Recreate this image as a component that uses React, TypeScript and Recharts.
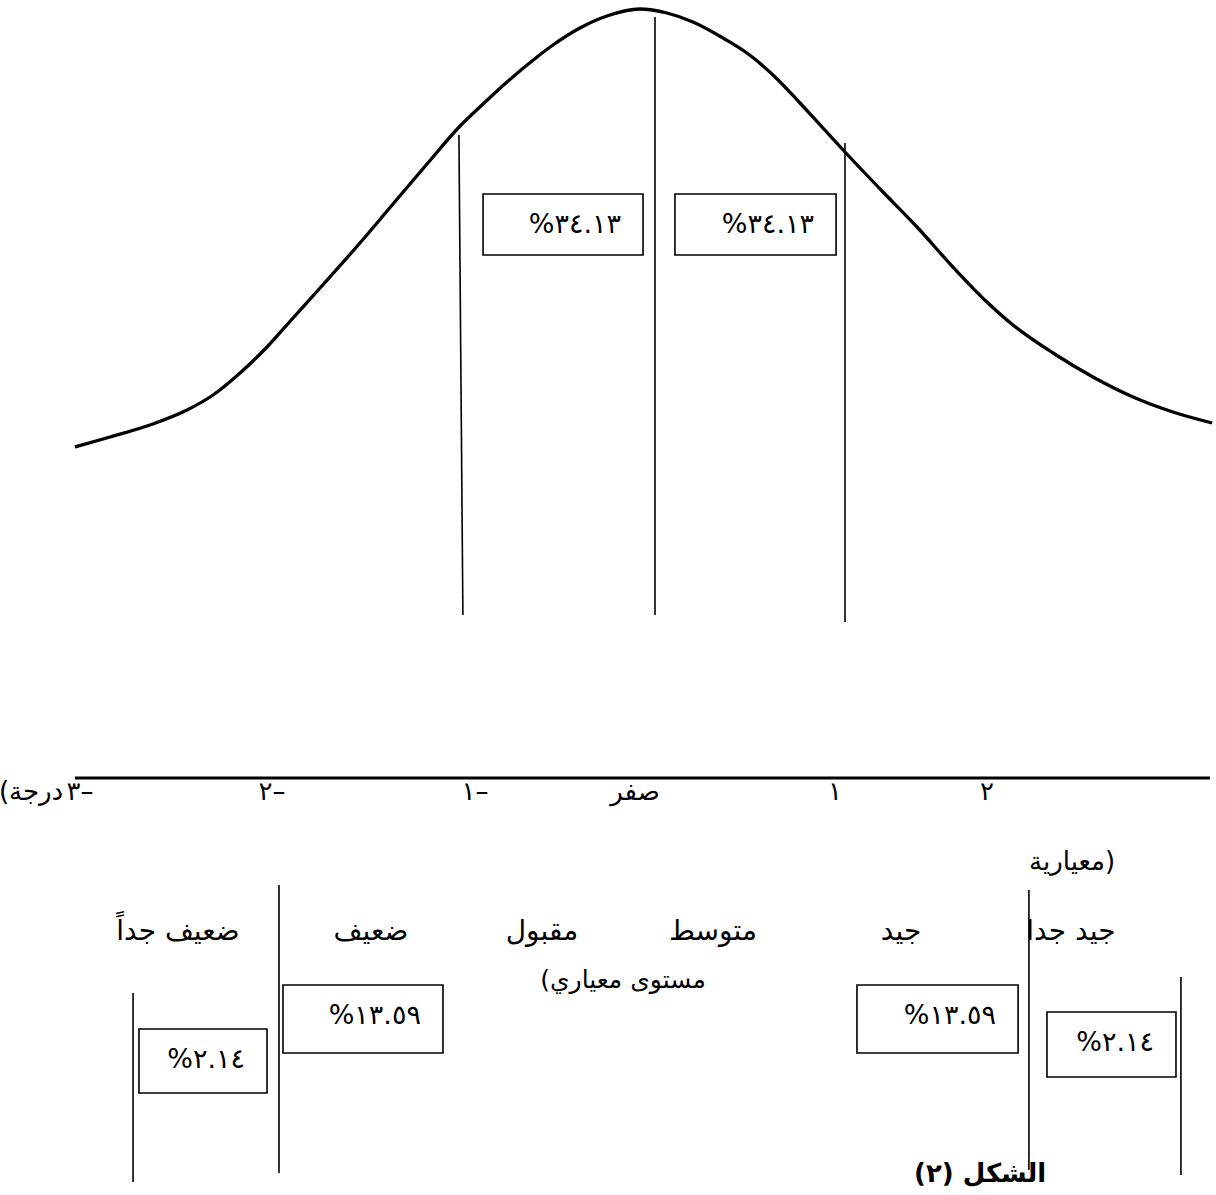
import React from "react";
import { ComposedChart, Line, XAxis, YAxis, ReferenceArea, Scatter } from "recharts";

// Horizontal unit: standard-score (z) units; vertical unit: height above the baseline.
const curveZ = [-3.053, -2.868, -2.658, -2.463, -2.326, -2.184, -2.042, -1.905, -1.763, -1.553, -1.379, -1.2, -1.026, -0.905, -0.779, -0.621, -0.537, -0.395, -0.253, -0.079, 0.063, 0.2, 0.358, 0.484, 0.621, 0.763, 0.884, 1.0, 1.2, 1.379, 1.568, 1.747, 1.884, 2.095, 2.305, 2.516, 2.726, 2.932];
const curveH = [331, 341, 353, 368, 383, 405, 431, 460, 490, 535, 574, 614, 652, 674, 696, 721, 733, 750, 762, 769, 765, 756, 740, 725, 703, 675, 650, 626, 586, 551, 511, 476, 453, 425, 401, 381, 366, 355];

// divider segments: [z1, h1] -> [z2, h2]
const dividerZ1 = [-1.032, 0, 1.0, -1.979, -2.747, 1.968, 2.768];
const dividerH1 = [643, 761, 635, -107, -215, -112, -199];
const dividerZ2 = [-1.011, 0, 1.0, -1.979, -2.747, 1.968, 2.768];
const dividerH2 = [163, 163, 156, -395, -404, -392, -397];

const baselineZ = [-3.053, 2.921];
const baselineH = [0, 0];

const boxLabels = ["%٣٤.١٣", "%٣٤.١٣", "%١٣.٥٩", "%٢.١٤", "%١٣.٥٩", "%٢.١٤"];
const boxZ1 = [-0.905, 0.105, -1.958, -2.716, 1.063, 2.063];
const boxZ2 = [-0.063, 0.953, -1.116, -2.042, 1.911, 2.742];
const boxH1 = [584, 584, -207, -251, -207, -234];
const boxH2 = [523, 523, -275, -315, -275, -299];

const tickLabels = ["(درجة", "٣–", "٢–", "١–", "صفر", "١", "٢", "معيارية)"];
const tickZ = [-3.284, -3.026, -2.016, -0.947, -0.105, 0.947, 1.747, 2.195];
const tickH = [-22, -22, -22, -22, -22, -22, -22, -92];

const levelLabels = ["ضعيف جداً", "ضعيف", "مقبول", "متوسط", "جيد", "جيد جدا"];
const levelZ = [-2.511, -1.495, -0.595, 0.305, 1.295, 2.189];
const levelH = [-162, -162, -162, -162, -162, -162];

const noteLabels = ["(مستوى معياري"];
const noteZ = [-0.168];
const noteH = [-210];

const captionLabels = ["الشكل (٢)"];
const captionZ = [1.711];
const captionH = [-404];

const curveData = curveZ.map((z, i) => ({ z, h: curveH[i] }));
const dividers = dividerZ1.map((z, i) => [
  { z, h: dividerH1[i] },
  { z: dividerZ2[i], h: dividerH2[i] },
]);
const baselineData = baselineZ.map((z, i) => ({ z, h: baselineH[i] }));
const tickData = tickLabels.map((t, i) => ({ z: tickZ[i], h: tickH[i], t }));
const levelData = levelLabels.map((t, i) => ({ z: levelZ[i], h: levelH[i], t }));
const noteData = noteLabels.map((t, i) => ({ z: noteZ[i], h: noteH[i], t }));
const captionData = captionLabels.map((t, i) => ({ z: captionZ[i], h: captionH[i], t }));

const FONT = "'DejaVu Sans', 'Noto Sans', sans-serif";

const BoxLabel = (props: any) => {
  const { viewBox, text } = props;
  if (!viewBox) return null;
  const { x, y, width } = viewBox;
  return (
    <text x={x + width - 22} y={y + 39} textAnchor="end" fontSize={27} fontFamily={FONT} fill="#000">
      {text}
    </text>
  );
};

const makeTextShape = (size: number, bold: boolean, rtl: boolean) => (props: any) => {
  const { cx, cy, payload } = props;
  return (
    <text
      x={cx}
      y={cy}
      textAnchor="middle"
      fontSize={size}
      fontWeight={bold ? "bold" : "normal"}
      fontFamily={FONT}
      fill="#000"
      direction={rtl ? "rtl" : "ltr"}
      style={rtl ? { direction: "rtl", unicodeBidi: "embed" } : undefined}
    >
      {payload.t}
    </text>
  );
};

export default function App() {
  return (
    <div style={{ position: "absolute", left: 0, top: 0, background: "#fff" }}>
      <ComposedChart width={1216} height={1195} margin={{ top: 0, right: 0, bottom: 0, left: 0 }}>
        <XAxis type="number" dataKey="z" domain={[-655 / 190, 561 / 190]} allowDataOverflow hide />
        <YAxis type="number" dataKey="h" domain={[-417, 778]} allowDataOverflow hide />
        <Line data={curveData} dataKey="h" type="monotone" stroke="#000" strokeWidth={3.3} dot={false} isAnimationActive={false} />
        <Line data={baselineData} dataKey="h" type="linear" stroke="#000" strokeWidth={3} dot={false} isAnimationActive={false} />
        {dividers.map((d, i) => (
          <Line key={"d" + i} data={d} dataKey="h" type="linear" stroke="#000" strokeWidth={1.6} dot={false} isAnimationActive={false} />
        ))}
        {boxLabels.map((t, i) => (
          <ReferenceArea
            key={"b" + i}
            x1={boxZ1[i]}
            x2={boxZ2[i]}
            y1={boxH1[i]}
            y2={boxH2[i]}
            fill="#fff"
            fillOpacity={0}
            stroke="#000"
            strokeWidth={1.6}
            label={<BoxLabel text={t} />}
          />
        ))}
        <Scatter data={tickData} dataKey="h" shape={makeTextShape(26, false, false)} isAnimationActive={false} />
        <Scatter data={levelData} dataKey="h" shape={makeTextShape(28, false, false)} isAnimationActive={false} />
        <Scatter data={noteData} dataKey="h" shape={makeTextShape(25, false, false)} isAnimationActive={false} />
        <Scatter data={captionData} dataKey="h" shape={makeTextShape(26, true, true)} isAnimationActive={false} />
      </ComposedChart>
    </div>
  );
}
